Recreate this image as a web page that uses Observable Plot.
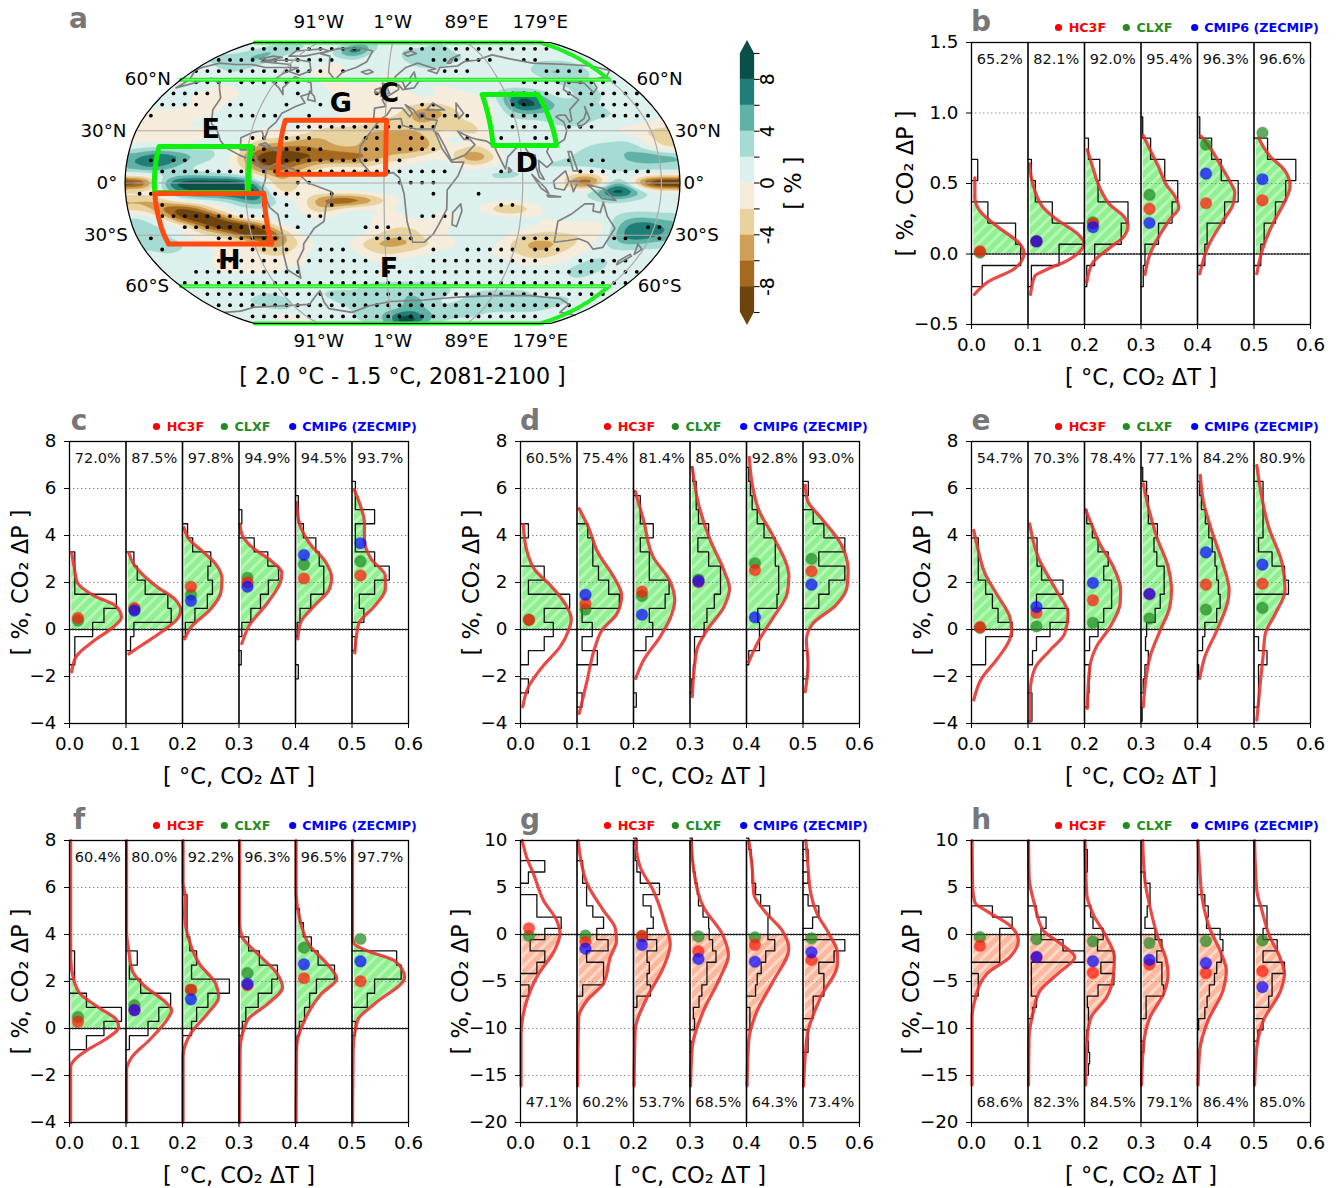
<!DOCTYPE html>
<html><head><meta charset="utf-8">
<script src="https://cdn.jsdelivr.net/npm/d3@7"></script>
<script src="https://cdn.jsdelivr.net/npm/@observablehq/plot@0.6"></script>
<style>html,body{margin:0;padding:0;background:#fff}#page{position:relative;width:1336px;height:1188px;overflow:hidden}</style>
</head><body>
<svg width="0" height="0" style="position:absolute"><defs>
<pattern id="hatchG" width="8" height="8" patternUnits="userSpaceOnUse" patternTransform="rotate(45)"><rect width="8" height="8" fill="#8ff08f"/><rect width="3" height="8" fill="#b8f6b8"/></pattern>
<pattern id="hatchO" width="8" height="8" patternUnits="userSpaceOnUse" patternTransform="rotate(45)"><rect width="8" height="8" fill="#fdb79c"/><rect width="3" height="8" fill="#fed8c8"/></pattern>
</defs></svg>
<div id="page"></div>
<script>
// ---------- map data ----------
const robLat=[0,5,10,15,20,25,30,35,40,45,50,55,60,65,70,75,80,85,90];
const robLen=[1,.9986,.9954,.99,.9822,.973,.96,.9427,.9216,.8962,.8679,.835,.7986,.7597,.7186,.6732,.6213,.5722,.5322];
const robDfe=[0,.062,.124,.186,.248,.31,.372,.434,.4958,.5571,.6176,.6769,.7346,.7903,.8435,.8936,.9394,.9761,1];
// change in precipitation (%), rows from 90N to 90S every 5 deg, columns 164W to 186E every 10 deg
const fieldRows=[
[1,1,1,1,1,1,1,1,1,1,1,1,3,3,3,1,1,1,1,1,1,1,1,1,1,1,1,1,1,1,1,1,1,1,1,1],
[1,1,1,3,3,3,3,1,1,1,1,3,5,5,3,1,1,1,1,1,1,3,3,1,1,1,1,1,1,1,1,1,1,1,1,1],
[1,1,3,3,5,3,3,1,1,1,1,3,9,9,3,1,1,1,3,3,3,3,3,1,1,1,1,1,1,1,1,1,1,1,1,1],
[3,3,3,5,5,3,1,1,1,1,1,1,3,3,1,-1,1,1,3,5,3,5,3,3,1,1,1,1,1,1,1,1,1,1,1,1],
[1,3,3,3,3,1,1,1,1,1,1,-1,-1,1,1,1,1,1,1,3,3,3,1,1,1,1,1,1,1,1,3,3,3,3,1,1],
[1,1,1,3,1,1,1,1,1,1,-1,-1,-1,1,1,1,-1,1,1,1,1,1,1,1,1,1,1,1,1,3,5,5,3,3,1,1],
[1,1,1,1,1,1,1,1,1,1,1,-1,-1,1,1,1,-1,-1,1,1,1,1,1,1,1,1,1,1,1,1,3,3,3,1,1,1],
[1,1,1,-1,-1,1,1,1,1,1,1,1,-1,-1,-1,-1,-1,-1,1,1,-1,-1,1,1,1,1,1,1,1,1,1,3,3,1,1,1],
[1,1,-1,-1,-1,-1,1,1,1,1,1,1,1,-1,-1,-1,-1,-1,-1,1,1,-1,-1,-1,1,3,9,9,3,1,1,3,3,1,1,1],
[1,1,1,-1,-1,1,1,1,1,1,1,1,1,1,-1,-1,-1,-1,-1,-3,-3,-1,-1,-1,-3,5,11,11,5,3,3,3,1,1,1,1],
[-1,-1,-1,-1,-1,1,1,1,1,1,1,1,1,1,-1,-1,-1,-1,-3,-9,-5,-3,-1,-1,-1,3,5,3,3,1,3,3,3,1,1,1],
[-1,-1,-1,1,1,1,1,1,1,1,1,1,-1,-1,-1,-1,-3,-3,-3,-5,-3,-1,-3,-1,1,1,1,1,3,3,3,1,1,1,1,-1],
[-1,-1,-1,-1,-1,1,1,1,-1,-1,1,-1,-3,-3,-3,-3,-5,-3,-5,-3,-1,-3,-5,-1,1,1,1,1,1,1,1,1,-1,-1,-3,-3],
[-1,-1,-1,-1,-1,1,1,1,-3,-1,-3,-5,-5,-3,-1,-5,-7,-5,-7,-5,-3,7,-3,-1,1,1,1,1,1,1,1,1,1,3,-3,-3],
[1,3,1,1,1,3,1,-1,-7,-7,-7,-7,-5,-5,-3,-5,-5,-5,-7,-5,-3,1,-5,-1,1,1,1,1,1,1,3,3,5,3,-1,-3],
[5,9,9,7,3,3,1,-3,-11,-11,-11,-9,-9,-9,-9,-7,-5,-3,-3,-1,1,-1,-11,-5,1,1,1,1,1,3,3,3,3,7,7,5],
[5,9,7,3,1,1,1,-1,-9,-9,-7,-5,-3,-1,-3,-3,-1,-1,1,1,1,1,-3,-1,1,1,1,3,3,3,3,5,3,3,3,3],
[1,1,1,1,3,1,1,1,-3,-5,-5,-3,1,1,1,1,1,1,1,1,1,1,1,3,3,3,1,1,-1,-3,-3,1,1,1,1,1],
[-13,-13,9,11,11,11,11,11,7,-5,-5,-1,1,1,1,1,1,1,1,1,1,1,1,1,1,1,1,1,1,-13,-13,7,7,-13,-15,-15],
[1,-1,1,7,9,9,11,11,13,-3,-5,1,-1,1,1,1,1,1,1,-1,1,1,1,1,1,1,1,1,1,1,3,13,13,3,1,1],
[-5,-5,-3,1,1,1,1,3,11,1,1,1,-7,-11,-11,-9,-3,-1,1,3,1,1,1,1,1,1,1,1,1,1,1,3,1,1,1,1],
[-3,-3,-9,-11,-9,-1,1,1,1,1,1,1,-7,-1,1,1,1,-1,3,1,-1,1,1,-1,-7,-7,-1,1,1,1,1,1,1,1,1,1],
[3,1,-3,-11,-13,-11,-5,1,1,1,1,1,-1,1,1,1,-1,-3,1,1,-1,-1,1,3,1,1,1,-1,1,1,1,1,3,5,3,3],
[3,3,1,1,-5,-11,-13,-13,-9,-1,1,1,1,1,1,1,-1,-1,-3,-1,-1,1,1,3,1,1,1,-1,-1,-1,-3,-1,5,9,9,5],
[3,3,1,-1,-1,-1,-3,-11,-13,-9,-1,1,1,1,1,1,-3,-5,-3,-1,-1,1,1,3,1,-1,-3,-3,-3,-1,-3,-1,5,9,9,5],
[3,5,3,1,-1,-1,-1,1,-7,-5,-3,-1,1,1,1,-5,-5,-5,-5,-3,-1,-1,1,1,1,-3,-5,-5,-5,-3,-1,1,3,5,3,3],
[1,3,1,1,1,-1,-1,-1,-3,-3,-1,1,1,1,1,-1,-3,-3,-1,-1,1,1,1,1,-1,-1,-3,-5,-3,-1,-1,1,1,1,1,1],
[1,1,1,1,-1,-1,-1,-1,-1,-1,-1,1,1,1,1,1,-1,1,1,1,1,1,1,1,1,1,-1,-1,-1,-1,1,3,3,1,1,1],
[1,1,1,1,-1,-1,-1,-1,-1,1,1,-1,1,1,1,1,1,1,1,1,1,1,1,1,1,1,1,1,1,1,3,3,3,1,1,1],
[1,1,1,1,1,1,1,1,1,1,1,1,1,1,1,1,1,1,1,1,1,1,1,1,1,1,1,1,1,1,1,3,1,1,1,1],
[1,1,1,1,1,1,1,1,1,1,1,1,1,1,1,3,3,3,3,3,3,3,1,1,1,1,1,1,1,1,1,1,1,1,1,1],
[1,1,1,1,1,1,3,1,1,1,1,3,3,3,3,3,3,3,5,3,3,3,1,1,3,3,3,3,3,1,1,1,1,1,1,1],
[1,1,1,1,3,3,5,3,1,1,1,1,3,3,3,3,1,3,5,5,3,1,1,3,3,3,3,3,3,3,3,5,3,1,1,1],
[1,1,1,1,1,3,3,1,1,1,1,1,1,3,3,3,3,3,5,5,3,3,3,3,3,3,3,3,3,3,3,3,1,1,1,1],
[1,1,1,1,-1,-1,-1,1,1,1,1,1,1,3,3,3,5,7,9,7,5,3,3,3,3,3,1,1,1,1,1,1,1,1,1,1],
[1,1,1,1,-1,-1,-1,-1,1,1,1,1,1,3,3,3,5,9,11,9,5,3,3,1,1,1,1,1,1,1,1,1,1,1,1,1],
[1,1,1,1,1,1,1,1,1,1,1,1,1,1,3,3,5,7,7,5,3,3,1,1,1,1,1,1,1,1,1,1,1,1,1,1]];
const levelBreaks=[-8,-6,-4,-2,0,2,4,6,8];
const levelColors=["#6f430e","#a66a1e","#cf9f55","#e8d39e","#f5ecdc","#dcf0ee","#a5dbd2","#5fb2a5","#1f7f78","#0b5048"];
// stippling: rows of [first,last] column of the dot lattice, top to bottom
const stippleRows=[
[[11,20],[25,37]],[[8,18],[27,32],[35,36]],[[6,17],[19,19],[28,30],[37,40]],[[6,8],[10,15],[35,44]],
[[4,7],[15,15],[22,22],[34,45]],[[3,6],[9,10],[14,14],[17,17],[26,27],[34,35],[41,45]],
[[2,2],[9,13],[16,16],[26,30],[34,36],[42,47]],[[15,23],[24,27],[34,36],[39,41]],
[[11,12],[14,16],[21,22],[25,26],[30,30],[33,33],[36,37]],[[11,12],[14,17],[21,22],[24,27]],
[[2,2],[4,5],[11,12],[14,22],[24,24],[39,39],[41,42]],[[3,10],[12,13],[14,24],[25,28],[33,33],[40,46]],
[[15,16],[24,27]],[[1,3],[12,15],[18,18],[27,27],[31,31]],[[3,3],[12,12],[14,14],[18,18],[33,34]],
[[3,12],[14,14],[16,17],[26,28]],[[5,12],[15,15],[21,23],[46,48]],[[1,2],[8,13],[22,25],[35,37],[43,44],[47,48]],
[[3,3],[11,14],[17,19],[27,27],[30,34],[36,38]],[[8,13],[16,21],[27,36],[40,44]],[[6,15],[18,25],[26,45]],
[[5,44]],[[7,42]],[[8,39]],[[11,36]]];
const coastlines=[
[[-168,66],[-162,60],[-165,55],[-152,59],[-146,61],[-135,58],[-130,54],[-124,49],[-124,42],[-120,34],[-115,31],[-110,24],[-105,20],[-96,16],[-90,14],[-85,11],[-80,8],[-78,8],[-78,2],[-80,-3],[-76,-14],[-71,-18],[-70,-30],[-73,-40],[-75,-50],[-68,-55],[-65,-45],[-58,-38],[-57,-35],[-48,-26],[-41,-22],[-39,-13],[-35,-8],[-35,-5],[-44,-2],[-50,0],[-60,8],[-72,11],[-76,9],[-80,9],[-83,10],[-86,16],[-88,16],[-87,21],[-91,19],[-96,19],[-97,26],[-90,29],[-84,30],[-81,25],[-80,31],[-76,35],[-74,40],[-70,42],[-66,44],[-60,46],[-65,50],[-58,52],[-62,58],[-70,60],[-78,62],[-82,55],[-79,51],[-85,55],[-94,59],[-90,64],[-81,68],[-95,68],[-110,68],[-125,70],[-140,70],[-156,71],[-166,68],[-168,66]],
[[-120,72],[-105,73],[-85,73],[-75,72],[-68,66],[-75,63],[-85,65],[-90,70],[-120,72]],
[[-100,80],[-75,82],[-65,80],[-85,76],[-100,76],[-100,80]],
[[-125,74],[-115,76],[-105,75],[-115,73],[-125,74]],[[-60,53],[-55,50],[-53,47],[-59,48],[-60,53]],
[[-44,60],[-52,65],[-55,70],[-60,76],[-72,78],[-60,82],[-35,83],[-20,80],[-22,72],[-30,68],[-40,65],[-44,60]],
[[-24,65],[-18,66.5],[-14,65],[-19,63.5],[-24,65]],[[12,78],[20,80],[25,78],[16,76],[12,78]],[[52,71],[57,74],[68,77],[60,75],[55,71],[52,71]],
[[-9,37],[-9,43],[-1,44],[-4,48],[2,51],[8,54],[8,57],[11,54],[20,55],[24,59],[30,60],[22,60],[21,65],[17,61],[18,59],[13,55],[11,59],[5,59],[5,62],[14,68],[25,71],[40,67],[33,66],[40,64],[44,68],[60,69],[68,72],[80,73],[100,77],[113,74],[130,71],[160,70],[180,69],[190,66],[180,62],[165,60],[162,55],[156,52],[156,58],[142,59],[135,54],[141,48],[130,42],[128,36],[126,35],[125,39],[121,39],[118,38],[122,35],[122,30],[119,25],[113,22],[108,21],[106,18],[109,12],[105,9],[100,13],[100,7],[103,2],[100,3],[98,9],[98,16],[94,17],[91,22],[86,20],[80,15],[78,8],[73,18],[72,21],[67,24],[61,25],[57,26],[52,28],[48,30],[52,25],[56,25],[59,22],[52,16],[43,13],[39,21],[35,28],[32,30],[35,36],[27,37],[26,40],[23,40],[23,37],[19,42],[13,45],[18,40],[16,38],[11,43],[3,43],[0,39],[-5,36],[-9,37]],
[[-5,36],[10,37],[11,33],[20,31],[32,31],[34,27],[37,20],[43,12],[51,12],[47,4],[40,-4],[40,-15],[35,-24],[32,-29],[26,-34],[18,-34],[14,-22],[12,-6],[9,3],[5,6],[-8,4],[-17,13],[-17,21],[-10,30],[-5,36]],
[[49,-12],[50,-16],[47,-25],[44,-24],[44,-17],[49,-12]],
[[114,-22],[122,-18],[130,-12],[136,-12],[136,-16],[141,-17],[142,-11],[146,-19],[153,-26],[150,-37],[144,-38],[138,-34],[131,-32],[124,-33],[115,-34],[114,-22]],
[[173,-35],[178,-38],[175,-41],[173,-35]],[[172,-41],[174,-42],[168,-47],[167,-45],[172,-41]],
[[95,5],[104,-3],[106,-6],[101,-3],[95,5]],[[109,1],[117,7],[119,1],[116,-4],[110,-3],[109,1]],[[105,-7],[114,-8],[106,-8],[105,-7]],
[[131,-1],[141,-3],[150,-10],[141,-9],[135,-4],[131,-1]],[[120,1],[125,1],[122,-5],[120,1]],[[120,18],[122,18],[125,7],[122,7],[120,18]],
[[131,32],[136,34],[141,37],[142,44],[141,41],[137,37],[131,34],[131,32]],[[80,9],[82,7],[80,6],[80,9]],
[[-5,50],[1,52],[-2,57],[-5,58],[-4,54],[-5,50]],[[-10,52],[-6,52],[-6,55],[-10,54],[-10,52]],
[[-84,22],[-75,20],[-80,23],[-84,22]],[[-74,19],[-69,18],[-70,20],[-74,19]],
[[50,46],[54,40],[50,37],[49,41],[50,46]],[[28,42],[33,46],[41,42],[35,42],[28,42]],
[[-169,-78],[-150,-77],[-130,-74],[-100,-73],[-75,-72],[-62,-65],[-58,-63],[-60,-70],[-60,-75],[-40,-78],[-20,-73],[0,-70],[30,-69],[60,-67],[90,-66],[120,-66],[150,-68],[165,-72],[170,-78],[191,-80]]];
const gridLons=[-91,-1,89,179];
const gridLats=[30,0,-30];
const greenBoxes=[[-150,-89,-5.5,21],[71,113,21.5,51]];
const redBoxes=[[-150,-79,-35,-6],[-70,0,5,36]];
const polarBoxes=[[-169,179,60,90],[-169,179,-90,-60]];
const regionLabels=[["E",-119,31],["G",-34,46],["C",1,51.5],["D",92,11],["H",-114,-44.5],["F",1,-49]];
const latLabelsLeft=[["60°N",-178,60.5],["30°N",-175.5,30],["0°",-174,0],["30°S",-174.5,-30],["60°S",-178.5,-60]];
const latLabelsRight=[["60°N",202,60.5],["30°N",195,30],["0°",193.3,0],["30°S",195,-30],["60°S",202,-60]];
const lonLabels=[["91°W",-91],["1°W",-1],["89°E",89],["179°E",179]];
const mapTitle="[ 2.0 °C - 1.5 °C, 2081-2100 ]";
// ---------- histogram panels: bins are [lower edge, width]; density curves are [y, width] ----------
const legendNames=["HC3F","CLXF","CMIP6 (ZECMIP)"];
const pctB=["65.2%","82.1%","92.0%","95.4%","96.3%","96.6%"];
const hc3fB=[.02,.09,.215,.32,.36,.38], clxfB=[.01,.09,.225,.42,.775,.86], cmipB=[null,.09,.19,.22,.57,.53];
const histB=[
[[-.232,.019],[-.0815,.087],[.069,.078],[.2195,.029],[.5205,.011]],
[[-.232,.006],[-.0815,.055],[.069,.099],[.2195,.043],[.37,.013],[.5205,.006]],
[[-.232,.004],[-.0815,.018],[.069,.065],[.2195,.077],[.37,.024],[.5205,.027],[.671,.007]],
[[-.232,.004],[-.0815,.007],[.069,.031],[.2195,.055],[.37,.065],[.5205,.042],[.671,.017],[.8215,.003]],
[[-.0815,.013],[.069,.017],[.2195,.048],[.37,.072],[.5205,.042],[.671,.025],[.8215,.004]],
[[-.0815,.012],[.069,.018],[.2195,.038],[.37,.056],[.5205,.074],[.671,.024]]];
const kdeB=[
[[-.287,.005],[-.19,.032],[-.11,.074],[-.04,.09],[.01,.093],[.07,.086],[.2,.044],[.305,.015],[.4,.006],[.54,.006]],
[[-.287,.0045],[-.157,.012],[-.11,.033],[-.05,.068],[.033,.095],[.08,.099],[.15,.086],[.23,.056],[.33,.027],[.45,.012],[.54,.006],[.64,.003]],
[[-.2,.004],[-.06,.015],[.045,.045],[.13,.071],[.2,.077],[.26,.071],[.35,.045],[.47,.027],[.61,.015],[.74,.005]],
[[-.145,.007],[0,.016],[.14,.034],[.245,.051],[.33,.067],[.41,.06],[.49,.045],[.62,.031],[.74,.016],[.84,.004]],
[[-.14,.004],[.056,.019],[.234,.045],[.352,.063],[.435,.066],[.518,.057],[.636,.04],[.755,.022],[.837,.006]],
[[-.14,.005],[.02,.014],[.22,.034],[.376,.055],[.48,.064],[.59,.055],[.695,.028],[.825,.008]]];
const pctC=["72.0%","87.5%","97.8%","94.9%","94.5%","93.7%"];
const hc3fC=[.49,.91,1.82,2,2.17,2.3], clxfC=[.38,.85,1.48,2.2,2.76,2.9], cmipC=[null,.8,1.22,1.82,3.17,3.67];
const histC=[
[[-1.5,.0094],[-.9,.0094],[-.3,.041],[.3,.061],[.9,.083],[1.5,.0094],[2.1,.0094],[2.7,.0094]],
[[-.9,.008],[-.3,.014],[.3,.08],[.9,.074],[1.5,.034],[2.1,.02],[2.7,.014]],
[[-.3,.005],[.3,.022],[.9,.044],[1.5,.053],[2.1,.045],[2.7,.05],[3.3,.018],[3.9,.009]],
[[-1.5,.004],[-.3,.005],[.3,.021],[.9,.038],[1.5,.052],[2.1,.07],[2.7,.051],[3.3,.027],[4.5,.005]],
[[-2.1,.005],[-.3,.003],[.3,.008],[.9,.027],[1.5,.05],[2.1,.05],[2.7,.042],[3.3,.036],[3.9,.014],[4.5,.005],[5.1,.005]],
[[-.9,.006],[.3,.021],[.9,.013],[1.5,.04],[2.1,.066],[2.7,.04],[3.3,.006],[3.9,.006],[4.5,.04],[5.1,.006],[5.7,.006]]];
const kdeC=[
[[-1.8,.004],[-1.18,.011],[-.47,.044],[.02,.073],[.52,.092],[1,.082],[1.43,.044],[2,.014],[2.7,.008],[3.27,.004]],
[[-1.04,.005],[-.68,.027],[-.12,.062],[.45,.091],[.8,.097],[1.3,.086],[1.8,.056],[2.4,.027],[2.85,.012],[3.27,.005]],
[[-.4,.004],[.09,.015],[.87,.05],[1.58,.068],[2.14,.07],[2.78,.059],[3.4,.032],[3.83,.012],[4.33,.003]],
[[-.6,.005],[.16,.018],[1.15,.051],[2.07,.074],[2.42,.076],[2.92,.057],[3.55,.021],[4.05,.005],[4.47,.002]],
[[-.4,.004],[.3,.009],[1,.033],[1.72,.06],[2.2,.064],[2.85,.054],[3.7,.024],[4.6,.006],[5.4,.002]],
[[-1,.005],[-.26,.008],[.3,.013],[1,.04],[1.72,.059],[2.28,.059],[3,.034],[3.83,.022],[4.54,.022],[5.4,.013],[5.95,.004]]];
const pctD=["60.5%","75.4%","81.4%","85.0%","92.8%","93.0%"];
const hc3fD=[.41,1.1,1.61,2.02,2.53,2.48], clxfD=[.41,.85,1.43,2.13,2.82,3.01], cmipD=[null,1.48,.63,2.06,.52,1.91];
const histD=[
[[-2.7,.014],[-1.5,.014],[-.9,.042],[-.3,.058],[.3,.042],[.9,.087],[1.5,.014],[2.1,.042],[3.9,.014]],
[[-3.3,.009],[-1.5,.036],[-.9,.009],[-.3,.027],[.3,.009],[.9,.075],[1.5,.056],[2.1,.038],[2.7,.028],[3.3,.028],[3.9,.019]],
[[-3.3,.005],[-.9,.022],[-.3,.034],[.3,.028],[.9,.056],[1.5,.063],[2.1,.028],[2.7,.028],[3.3,.012],[3.9,.035],[4.5,.012],[5.1,.012]],
[[-2.7,.003],[-2.1,.006],[-1.5,.008],[-.9,.008],[-.3,.025],[.3,.03],[.9,.043],[1.5,.054],[2.1,.054],[2.7,.033],[3.3,.014],[3.9,.033],[4.5,.015],[5.1,.011],[5.7,.011],[6.3,.005]],
[[-1.5,.004],[-.9,.023],[-.3,.023],[.3,.02],[.9,.054],[1.5,.057],[2.1,.057],[2.7,.051],[3.3,.051],[3.9,.031],[4.5,.019],[5.1,.01],[5.7,.007],[6.3,.004]],
[[-2.1,.008],[-1.5,.008],[.9,.028],[1.5,.046],[2.1,.074],[2.7,.028],[3.3,.074],[3.9,.037],[4.5,.018],[5.7,.0094]]];
const kdeD=[
[[-3.29,.004],[-2.44,.014],[-1.52,.041],[-.74,.07],[-.04,.085],[.45,.09],[1.1,.079],[1.88,.053],[2.52,.026],[3.37,.011],[4.46,.005]],
[[-3.57,.004],[-2.16,.018],[-.74,.032],[-.04,.044],[.68,.071],[1.46,.079],[2.24,.065],[3.23,.038],[4.36,.02],[5.14,.004]],
[[-2.08,.004],[-1.3,.018],[-.31,.047],[.47,.065],[1.24,.073],[2.09,.064],[3.08,.035],[4.64,.018],[5.88,.003]],
[[-2.86,.004],[-.88,.012],[-.04,.03],[.96,.06],[1.74,.07],[2.52,.06],[3.79,.036],[5.35,.015],[6.9,.004]],
[[-1.38,.004],[-.46,.022],[.53,.048],[1.53,.072],[2.24,.075],[3.93,.048],[5.07,.022],[6.2,.01],[7.33,.005]],
[[-2.65,.004],[-1.45,.009],[-.47,.006],[.24,.017],[1.03,.058],[1.81,.078],[2.52,.08],[3.65,.067],[4.78,.031],[5.49,.008],[6.13,.004]]];
const pctE=["54.7%","70.3%","78.4%","77.1%","84.2%","80.9%"];
const hc3fE=[.1,.71,1.24,1.51,1.91,1.95], clxfE=[.07,.13,.28,.47,.85,.92], cmipE=[null,.96,1.98,1.51,3.28,2.76];
const histE=[
[[-1.5,.025],[-.9,.025],[-.3,.072],[.3,.047],[.9,.037],[1.5,.025],[2.1,.012],[2.7,.012],[3.3,.012]],
[[-3.9,.007],[-3.3,.007],[-1.5,.008],[-.9,.015],[-.3,.039],[.3,.071],[.9,.015],[1.5,.062],[2.1,.024],[2.7,.016],[3.3,.016]],
[[-3.3,.006],[-2.7,.008],[-2.1,.009],[-.9,.009],[-.3,.024],[.3,.034],[.9,.048],[1.5,.048],[2.1,.034],[2.7,.042],[3.3,.024],[3.9,.014],[4.5,.004]],
[[-3.9,.002],[-2.7,.004],[-2.1,.007],[-1.5,.013],[-.9,.008],[-.3,.01],[.3,.025],[.9,.034],[1.5,.041],[2.1,.041],[2.7,.028],[3.3,.023],[3.9,.029],[4.5,.013],[5.1,.013],[5.7,.01],[6.3,.003]],
[[-2.1,.002],[-.9,.009],[-.3,.013],[.3,.034],[.9,.04],[1.5,.037],[2.1,.034],[2.7,.031],[3.3,.026],[3.9,.02],[4.5,.014],[5.1,.007],[5.7,.004]],
[[-3.3,.008],[-2.7,.008],[-2.1,.008],[-1.5,.023],[-.9,.008],[1.5,.061],[2.1,.054],[2.7,.032],[3.3,.008],[3.9,.016],[4.5,.016],[5.1,.016],[5.7,.016]]];
const kdeE=[
[[-3,.004],[-2.08,.018],[-1.3,.044],[-.39,.068],[-.04,.071],[.52,.068],[1.53,.044],[2.38,.024],[3.37,.012],[4.22,.004]],
[[-3.92,.004],[-2.65,.004],[-1.66,.012],[-.88,.039],[-.17,.065],[.68,.071],[1.67,.05],[3.08,.018],[4.5,.003]],
[[-3.36,.005],[-1.66,.009],[-.74,.021],[.1,.045],[1.1,.063],[1.67,.064],[2.67,.051],[3.65,.027],[4.5,.012],[5.1,.002]],
[[-3.29,.004],[-1.16,.016],[-.04,.034],[.96,.051],[1.67,.054],[2.67,.048],[3.93,.028],[5.2,.013],[6.2,.004]],
[[-2.08,.004],[-1.16,.013],[.1,.037],[1.24,.054],[1.67,.056],[2.8,.045],[4.22,.025],[5.5,.01],[6.56,.005]],
[[-3.86,.005],[-2.3,.011],[-1.16,.016],[-.18,.02],[.68,.038],[1.67,.055],[2.8,.05],[4.36,.026],[6.98,.005]]];
const pctF=["60.4%","80.0%","92.2%","96.3%","96.5%","97.7%"];
const hc3fF=[.28,.78,1.65,1.84,2.14,2.01], clxfF=[.49,.99,1.65,2.36,3.44,3.81], cmipF=[null,.78,1.24,1.9,2.73,2.86];
const histF=[
[[-.9,.03],[-.3,.061],[.3,.092],[.9,.03],[2.1,.009],[2.7,.009]],
[[-.9,.006],[-.3,.039],[.3,.058],[.9,.079],[1.5,.026],[2.1,.006],[2.7,.02]],
[[-.3,.016],[.3,.025],[.9,.045],[1.5,.083],[2.1,.016],[2.7,.025],[3.3,.013],[3.9,.008],[4.5,.008],[5.1,.008]],
[[-.3,.006],[.3,.012],[.9,.034],[1.5,.058],[2.1,.068],[2.7,.036],[3.3,.017]],
[[-.9,.003],[-.3,.007],[.3,.016],[.9,.025],[1.5,.037],[2.1,.069],[2.7,.04],[3.3,.028],[3.9,.014],[4.5,.007]],
[[-.3,.006],[.9,.027],[1.5,.04],[2.1,.087],[2.7,.079]]];
const kdeF=[
[[-4,.002],[-1.63,.002],[-1.28,.011],[-.92,.031],[-.5,.061],[.06,.087],[.35,.084],[.84,.055],[1.48,.019],[2.04,.008],[3.03,.002],[8,.002]],
[[-4,.001],[-1.78,.001],[-1.2,.011],[-.5,.041],[.5,.076],[.77,.081],[1.05,.073],[1.83,.032],[2.47,.011],[3.3,.005],[4.1,.001],[8,.001]],
[[-4,.001],[-1.2,.001],[-.2,.015],[.63,.044],[1.34,.064],[1.9,.059],[2.75,.03],[3.73,.012],[4.87,.004],[5.6,.005],[6.2,.001],[8,.001]],
[[-4,.001],[-.92,.002],[.35,.015],[1.05,.051],[1.76,.077],[2.32,.068],[3.18,.033],[3.89,.006],[4.45,.001],[8,.001]],
[[-4,.001],[-.8,.002],[.35,.016],[1.48,.046],[2.12,.073],[2.69,.058],[3.54,.025],[4.74,.007],[5.87,.001],[8,.001]],
[[-4,.001],[-.92,.002],[.35,.01],[1.05,.04],[2.18,.093],[2.89,.075],[3.3,.028],[3.6,.004],[3.9,.001],[8,.001]]];
const pctG=["47.1%","60.2%","53.7%","68.5%","64.3%","73.4%"];
const hc3fG=[.67,-.8,-.14,-1.8,-1.1,-2.7], clxfG=[-.14,-.1,-.2,-.2,-.3,-.4], cmipG=[null,-1.5,-1.1,-2.6,-2.9,-1.9];
const histG=[
[[-6.55,.015],[-4.15,.029],[-2.95,.043],[-1.75,.017],[-.55,.043],[.65,.072],[1.85,.029],[3.05,.029],[5.45,.014],[6.65,.043]],
[[-6.55,.01],[-5.35,.047],[-4.15,.047],[-2.95,.017],[-1.75,.055],[-.55,.035],[.65,.047],[1.85,.028],[3.05,.017],[4.25,.017],[5.45,.01],[6.65,.01]],
[[-7.75,.006],[-6.55,.03],[-5.35,.024],[-4.15,.028],[-2.95,.024],[-1.75,.041],[-.55,.024],[.65,.035],[1.85,.031],[3.05,.017],[4.25,.046],[5.45,.012],[6.65,.006],[7.85,.003],[9.05,.006]],
[[-12.55,.002],[-10.15,.008],[-8.95,.006],[-7.75,.016],[-6.55,.021],[-5.35,.03],[-4.15,.03],[-2.95,.046],[-1.75,.04],[-.55,.034],[.65,.033],[1.85,.023],[3.05,.015],[4.25,.013],[5.45,.009],[6.65,.006],[7.85,.004],[9.05,.004]],
[[-10.15,.006],[-8.95,.006],[-6.55,.016],[-5.35,.019],[-4.15,.026],[-2.95,.034],[-1.75,.05],[-.55,.038],[.65,.038],[1.85,.041],[3.05,.025],[4.25,.016],[5.45,.01],[6.65,.01],[7.85,.008],[9.05,.004]],
[[-12.55,.009],[-11.35,.009],[-8.95,.018],[-7.75,.018],[-6.55,.037],[-5.35,.037],[-4.15,.028],[-2.95,.055],[-1.75,.074],[.65,.017],[1.85,.028],[3.05,.009],[5.45,.009],[7.85,.009]]];
const kdeG=[
[[-16.1,.001],[-10.6,.001],[-7.7,.008],[-4.5,.029],[-1.6,.061],[.07,.07],[1.5,.064],[3.6,.041],[6.45,.023],[8.2,.011],[10,.003]],
[[-16.1,.001],[-8.8,.003],[-7,.018],[-5.2,.047],[-2.4,.059],[-.64,.07],[.6,.068],[2.55,.047],[5.4,.018],[8.2,.006],[10,.002]],
[[-16.1,.001],[-10.2,.003],[-6.7,.024],[-3.5,.053],[-1,.065],[1.1,.056],[4.68,.035],[7.16,.012],[10,.003]],
[[-16.1,.001],[-12,.004],[-8.1,.024],[-4.5,.054],[-2.2,.068],[.07,.057],[2.9,.024],[7.16,.006],[10,.002]],
[[-16.1,.001],[-11.3,.004],[-8.1,.019],[-4.9,.048],[-1.5,.075],[.43,.063],[2.55,.031],[4.3,.013],[7.16,.01],[10,.004]],
[[-16.1,.001],[-10.6,.008],[-6.7,.031],[-3.1,.061],[-2,.061],[.07,.046],[2.2,.025],[4.3,.014],[7.9,.008],[10,.005]]];
const pctH=["68.6%","82.3%","84.5%","79.1%","86.4%","85.0%"];
const hc3fH=[-1.2,-2.4,-4.08,-3.2,-4.1,-3.9], clxfH=[-.28,-.5,-.74,-.92,-.7,-.64], cmipH=[null,-2.4,-2.84,-2.7,-3.05,-5.6];
const histH=[
[[-6.55,.012],[-5.35,.012],[-2.95,.05],[-1.75,.05],[-.55,.05],[.65,.072],[1.85,.037]],
[[-8.95,.008],[-7.75,.015],[-6.55,.006],[-5.35,.006],[-4.15,.006],[-2.95,.1],[-1.75,.062],[-.55,.023],[.65,.032],[1.85,.015]],
[[-14.95,.007],[-13.75,.009],[-12.55,.007],[-11.35,.004],[-10.15,.007],[-8.95,.007],[-7.75,.005],[-6.55,.024],[-5.35,.052],[-4.15,.029],[-2.95,.052],[-1.75,.023],[-.55,.033],[.65,.015],[1.85,.011],[6.65,.005],[7.85,.005]],
[[-12.55,.005],[-8.95,.009],[-7.75,.009],[-6.55,.04],[-5.35,.037],[-4.15,.037],[-2.95,.028],[-1.75,.037],[-.55,.025],[.65,.007],[1.85,.011],[3.05,.016],[4.25,.016],[5.45,.007]],
[[-10.15,.002],[-8.95,.013],[-7.75,.017],[-6.55,.021],[-5.35,.03],[-4.15,.034],[-2.95,.042],[-1.75,.045],[-.55,.04],[.65,.016],[1.85,.019],[3.05,.013]],
[[-11.35,.007],[-10.15,.016],[-7.75,.026],[-6.55,.032],[-5.35,.032],[-4.15,.054],[-2.95,.016],[-1.75,.041],[-.55,.016],[.65,.023],[1.85,.023]]];
const kdeH=[
[[-16,.001],[-8.8,.001],[-7,.006],[-4.2,.027],[-2.4,.068],[-.64,.083],[.96,.068],[2.38,.03],[3.4,.006],[5,.002],[10,.001]],
[[-16,.001],[-10.9,.002],[-8.1,.01],[-6,.021],[-4,.056],[-2.4,.083],[-1.17,.062],[.43,.027],[3.1,.012],[6.1,.002],[10,.001]],
[[-16,.002],[-10.9,.005],[-8.8,.012],[-6.7,.039],[-4.5,.051],[-2.4,.053],[-.28,.039],[2.2,.015],[4.3,.004],[10,.001]],
[[-16,.001],[-12,.004],[-8.8,.016],[-6.3,.04],[-4.2,.048],[-2.8,.045],[.07,.028],[2.9,.016],[5.7,.007],[10,.003]],
[[-16,.001],[-12.3,.004],[-9.1,.019],[-6,.045],[-3.8,.051],[-2,.042],[.6,.022],[3.26,.01],[6.8,.004],[10,.001]],
[[-16,.001],[-12,.005],[-9.1,.017],[-6,.047],[-4.2,.054],[-2.6,.047],[.07,.026],[2.55,.014],[4.7,.005],[10,.001]]];
const xTicks=[0,.1,.2,.3,.4,.5,.6];
const xLabel="[ °C, CO₂ ΔT ]", yLabel="[ %, CO₂ ΔP ]";
const ticksB=[-.5,0,.5,1,1.5], ticksC=[-4,-2,0,2,4,6,8], ticksG=[-20,-15,-10,-5,0,5,10];

const font="DejaVu Sans";
const page=document.getElementById("page");

// ---------- panels ----------
function panel({letter,left,top,domain,ticks,fmt,pct,hist,kde,hc3f,clxf,cmip,binSize,hatch,ySign,pctAt,yLabelDx}){
  const ox=i=>i/10;
  const hs=[];
  hist.forEach((bins,g)=>{
    let run=0,prev=null;
    bins.forEach(([lo,w],i)=>{
      const hi=lo+binSize,id=g+"-"+run;
      if(prev===null) hs.push({s:id,x:ox(g),y:lo});
      hs.push({s:id,x:ox(g)+w,y:lo},{s:id,x:ox(g)+w,y:hi});
      const next=bins[i+1];
      if(!next||Math.abs(next[0]-hi)>binSize*.2){ hs.push({s:id,x:ox(g),y:hi}); run++; prev=null; }
      else prev=hi;
    });
  });
  const ks=[],fs=[];
  kde.forEach((pts,g)=>{
    pts.forEach(([y,w])=>ks.push({g,y,x:ox(g)+w}));
    let out=[];
    for(let i=0;i<pts.length;i++){
      const [y,w]=pts[i];
      if(i>0&&pts[i-1][0]*y<0){const [y0,w0]=pts[i-1];out.push([0,w0+(w-w0)*(0-y0)/(y-y0)]);}
      if(y*ySign>=0) out.push([y,w]);
    }
    out.forEach(([y,w])=>fs.push({g,y,a:ox(g)+Math.min(.004,w),b:ox(g)+w}));
  });
  const dotsOf=(arr,fill)=>Plot.dot(arr.map((v,g)=>({g,v})).filter(d=>d.v!==null),{x:d=>ox(d.g)+.015,y:"v",r:5.8,fill,fillOpacity:.72,stroke:fill,strokeOpacity:.2});
  const grid=ticks.filter(t=>t!==0&&t!==domain[0]&&t!==domain[1]);
  const topText=(t,x,fill)=>Plot.text([t],{x:()=>x,frameAnchor:"top",lineAnchor:"middle",dy:-15,textAnchor:"start",fontSize:12.7,fontWeight:"bold",fill,text:d=>d});
  const svg=Plot.plot({
    width:429,height:392,marginLeft:70,marginRight:20,marginTop:40,marginBottom:70,
    style:{position:"absolute",left:(left-70)+"px",top:(top-40)+"px",background:"transparent",fontFamily:font,fontSize:"18.3px",color:"#000",overflow:"visible"},
    x:{domain:[0,.6],axis:null},y:{domain,axis:null},
    marks:[
      Plot.areaX(fs,{y:"y",x1:"a",x2:"b",z:"g",fill:hatch,curve:"monotone-y"}),
      Plot.ruleY(grid,{stroke:"#888",strokeWidth:1.2,strokeDasharray:"1.4,2.6"}),
      Plot.ruleY([0],{stroke:"#000",strokeWidth:1.1}),
      Plot.ruleY([0],{stroke:"#333",strokeWidth:2,strokeDasharray:"1.6,1.4",strokeOpacity:.8}),
      Plot.line(hs,{x:"x",y:"y",z:"s",stroke:"#111",strokeWidth:1.3}),
      Plot.line(ks,{x:"x",y:"y",z:"g",stroke:"#e8302c",strokeOpacity:.88,strokeWidth:3.2,curve:"monotone-y"}),
      dotsOf(clxf,"#228b22"),dotsOf(hc3f,"#ff1a0a"),dotsOf(cmip,"#0a0aff"),
      Plot.ruleX([.1,.2,.3,.4,.5],{stroke:"#000",strokeWidth:1.6}),
      Plot.frame({stroke:"#000",strokeWidth:1.3,fill:"none"}),
      Plot.axisX({ticks:xTicks,tickFormat:d=>d.toFixed(1),tickSize:5,tickPadding:8.5,label:null,fontSize:18.3}),
      Plot.axisY({ticks,tickFormat:d=>(fmt?d.toFixed(1):String(d)).replace("-","−"),tickSize:5,tickPadding:8,label:null,fontSize:18.3}),
      Plot.text(pct,{x:(d,i)=>ox(i)+.05,frameAnchor:pctAt<0?"bottom":"top",lineAnchor:"middle",dy:pctAt<0?-20:17,text:d=>d,fontSize:14.5,fill:"#111"}),
      Plot.text([xLabel],{frameAnchor:"bottom",lineAnchor:"middle",dy:53,fontSize:22.5,text:d=>d}),
      Plot.text([yLabel],{frameAnchor:"left",textAnchor:"middle",lineAnchor:"middle",dx:-yLabelDx,rotate:-90,fontSize:22.5,text:d=>d}),
      Plot.text([letter],{x:()=>.017,frameAnchor:"top",lineAnchor:"middle",dy:-20,fontSize:28,fontWeight:"bold",fill:"#777",text:d=>d}),
      Plot.dot([0],{x:()=>.154,frameAnchor:"top",dy:-15,r:3.6,fill:"#ff0000"}),
      Plot.dot([0],{x:()=>.274,frameAnchor:"top",dy:-15,r:3.6,fill:"#228b22"}),
      Plot.dot([0],{x:()=>.395,frameAnchor:"top",dy:-15,r:3.6,fill:"#0000ff"}),
      topText(legendNames[0],.172,"#ff0000"),
      topText(legendNames[1],.292,"#228b22"),
      topText(legendNames[2],.412,"#0000ff")
    ]
  });
  page.appendChild(svg);
}
const G="url(#hatchG)",O="url(#hatchO)";
panel({letter:"b",left:971,top:42,domain:[-.5,1.5],ticks:ticksB,fmt:true,pct:pctB,hist:histB,kde:kdeB,hc3f:hc3fB,clxf:clxfB,cmip:cmipB,binSize:.1505,hatch:G,ySign:1,pctAt:1,yLabelDx:66});
panel({letter:"c",left:69,top:441,domain:[-4,8],ticks:ticksC,pct:pctC,hist:histC,kde:kdeC,hc3f:hc3fC,clxf:clxfC,cmip:cmipC,binSize:.6,hatch:G,ySign:1,pctAt:1,yLabelDx:49});
panel({letter:"d",left:520,top:441,domain:[-4,8],ticks:ticksC,pct:pctD,hist:histD,kde:kdeD,hc3f:hc3fD,clxf:clxfD,cmip:cmipD,binSize:.6,hatch:G,ySign:1,pctAt:1,yLabelDx:49});
panel({letter:"e",left:971,top:441,domain:[-4,8],ticks:ticksC,pct:pctE,hist:histE,kde:kdeE,hc3f:hc3fE,clxf:clxfE,cmip:cmipE,binSize:.6,hatch:G,ySign:1,pctAt:1,yLabelDx:49});
panel({letter:"f",left:69,top:840,domain:[-4,8],ticks:ticksC,pct:pctF,hist:histF,kde:kdeF,hc3f:hc3fF,clxf:clxfF,cmip:cmipF,binSize:.6,hatch:G,ySign:1,pctAt:1,yLabelDx:49});
panel({letter:"g",left:520,top:840,domain:[-20,10],ticks:ticksG,pct:pctG,hist:histG,kde:kdeG,hc3f:hc3fG,clxf:clxfG,cmip:cmipG,binSize:1.2,hatch:O,ySign:-1,pctAt:-1,yLabelDx:60});
panel({letter:"h",left:971,top:840,domain:[-20,10],ticks:ticksG,pct:pctH,hist:histH,kde:kdeH,hc3f:hc3fH,clxf:clxfH,cmip:cmipH,binSize:1.2,hatch:O,ySign:-1,pctAt:-1,yLabelDx:60});

// ---------- map ----------
const lenAt=d3.scaleLinear(robLat,robLen), dfeAt=d3.scaleLinear(robLat,robDfe), latAt=d3.scaleLinear(robDfe,robLat);
const mapCx=402,mapCy=182.5,mapK=1.5417,mapRy=140.5,lon0=11;
const mapX=(lon,lat)=>mapCx+mapK*lenAt(Math.abs(lat))*(lon-lon0);
const mapY=lat=>mapCy-Math.sign(lat)*mapRy*dfeAt(Math.abs(lat));
const robinson=d3.geoTransform({point(lon,lat){this.stream.point(mapX(lon,lat),mapY(lat));}});
const nCols=fieldRows[0].length,nRows=fieldRows.length;
// resample the read-off grid more finely so the filled contours come out rounded
const up=3,fw=nCols*up,fh=nRows*up,fine=new Float64Array(fw*fh);
for(let j=0;j<fh;j++)for(let i=0;i<fw;i++){
  const gx=Math.max(0,Math.min(nCols-1.001,(i+.5)/up-.5)),gy=Math.max(0,Math.min(nRows-1.001,(j+.5)/up-.5));
  const x0=Math.floor(gx),y0=Math.floor(gy),tx=gx-x0,ty=gy-y0;
  fine[j*fw+i]=(fieldRows[y0][x0]*(1-tx)+fieldRows[y0][x0+1]*tx)*(1-ty)+(fieldRows[y0+1][x0]*(1-tx)+fieldRows[y0+1][x0+1]*tx)*ty;
}
d3.blur2({data:fine,width:fw,height:fh},1.6,.4);
const toLL=([x,y])=>[-169+10*x/up,Math.max(-90,Math.min(90,92.5-5*y/up))];
const bands=d3.contours().size([fw,fh]).thresholds(levelBreaks)(Array.from(fine)).map(c=>({
  type:"MultiPolygon",value:c.value,coordinates:c.coordinates.map(p=>p.map(r=>r.map(toLL)))}));
const colorOfBand=v=>levelColors[levelBreaks.indexOf(v)+1];
const outlineLats=d3.range(90,-91,-2.5);
const outline={type:"Polygon",coordinates:[[...outlineLats.map(a=>[191,a]),...outlineLats.slice().reverse().map(a=>[-169,a]),[191,90]]]};
const seg=(a,b,n=40)=>d3.range(n+1).map(i=>[a[0]+(b[0]-a[0])*i/n,a[1]+(b[1]-a[1])*i/n]);
const boxLine=([w,e,s,n])=>({type:"LineString",coordinates:[...seg([w,s],[w,n]),...seg([w,n],[e,n]),...seg([e,n],[e,s]),...seg([e,s],[w,s])]});
// the polar boxes are open on their western side
const polarLine=([w,e,s,n])=>({type:"LineString",coordinates:[...seg([w,n],[e,n]),...seg([e,n],[e,s]),...seg([e,s],[w,s])]});
const stipple=[];
stippleRows.forEach((ranges,r)=>ranges.forEach(([a,b])=>{for(let c=a;c<=b;c++){
  const py=48.3+11.15*r,px=127.8+11.3*c,t=(mapCy-py)/mapRy;
  const lat=Math.sign(t)*latAt(Math.abs(t));
  const lon=lon0+(px-mapCx)/(mapK*lenAt(Math.abs(lat)));
  if(lon>-167&&lon<189) stipple.push({lon,lat});
}}));
const label=(d,o)=>Plot.text(d,{x:x=>x[1],y:x=>x[2],text:x=>x[0],...o});
const mapSvg=Plot.plot({
  width:830,height:400,margin:0,
  style:{position:"absolute",left:"0px",top:"0px",background:"transparent",fontFamily:font,color:"#000",overflow:"visible"},
  projection:robinson,
  marks:[
    Plot.geo([outline],{fill:levelColors[0],stroke:"none"}),
    Plot.geo(bands,{fill:d=>colorOfBand(d.value),stroke:d=>colorOfBand(d.value),strokeWidth:.4}),
    Plot.dot(stipple,{x:"lon",y:"lat",r:1.9,fill:"#000"}),
    Plot.geo([{type:"MultiLineString",coordinates:coastlines}],{fill:"none",stroke:"#808080",strokeWidth:1.7}),
    Plot.geo(gridLons.map(l=>({type:"LineString",coordinates:seg([l,-90],[l,90],72)})),{fill:"none",stroke:"#aaa",strokeWidth:1.2}),
    Plot.geo(gridLats.map(a=>({type:"LineString",coordinates:seg([-169,a],[191,a])})),{fill:"none",stroke:"#aaa",strokeWidth:1.2}),
    Plot.geo(polarBoxes.map(polarLine),{fill:"none",stroke:"#1fee1f",strokeWidth:4}),
    Plot.geo([60,-60].map(a=>({type:"LineString",coordinates:seg([-169,a],[179,a])})),{fill:"none",stroke:"#a8f0a8",strokeWidth:1}),
    Plot.geo(greenBoxes.map(boxLine),{fill:"none",stroke:"#0cf00c",strokeWidth:5}),
    Plot.geo(redBoxes.map(boxLine),{fill:"none",stroke:"#ff4a10",strokeWidth:5}),
    Plot.geo([outline],{fill:"none",stroke:"#000",strokeWidth:1.2}),
    label(regionLabels,{fontSize:27,fontWeight:"bold",fill:"#000"}),
    label(latLabelsLeft,{fontSize:18.3,textAnchor:"end",fill:"#000"}),
    label(latLabelsRight,{fontSize:18.3,textAnchor:"start",fill:"#000"}),
    Plot.text(lonLabels,{x:d=>d[1],y:()=>90,dy:-20,text:d=>d[0],fontSize:18.3,fill:"#000"}),
    Plot.text(lonLabels,{x:d=>d[1],y:()=>-90,dy:18,text:d=>d[0],fontSize:18.3,fill:"#000"}),
    Plot.text([mapTitle],{x:()=>11,y:()=>-90,dy:53,text:d=>d,fontSize:22.2,fill:"#000"}),
    Plot.text(["a"],{frameAnchor:"top-left",lineAnchor:"middle",dx:78,dy:19,textAnchor:"middle",fontSize:28,fontWeight:"bold",fill:"#777",text:d=>d})
  ]
});
page.appendChild(mapSvg);

// ---------- colour bar ----------
const cbSteps=[-10,-8,-6,-4,-2,0,2,4,6,8,10];
const cbRects=levelColors.map((c,i)=>({lo:cbSteps[i],hi:cbSteps[i+1],c}));
const cbLabels=[8,4,0,-4,-8];
const cbSvg=Plot.plot({
  width:830,height:400,margin:0,
  style:{position:"absolute",left:"0px",top:"0px",background:"transparent",fontFamily:font,color:"#000",overflow:"visible"},
  x:{domain:[0,1],range:[740,754],axis:null},y:{domain:[-10,10],range:[312,53],axis:null},
  marks:[
    Plot.rect(cbRects,{x1:()=>0,x2:()=>1,y1:"lo",y2:"hi",fill:"c",stroke:"c",strokeWidth:.3}),
    Plot.areaX([{y:10,a:0,b:1},{y:11,a:.5,b:.5}],{y:"y",x1:"a",x2:"b",fill:levelColors[9]}),
    Plot.areaX([{y:-11,a:.5,b:.5},{y:-10,a:0,b:1}],{y:"y",x1:"a",x2:"b",fill:levelColors[0]}),
    Plot.ruleY(cbSteps,{x1:()=>1,x2:()=>1.4,stroke:"#111",strokeWidth:1.1}),
    Plot.text(cbLabels,{x:()=>1.95,y:d=>d,rotate:-90,text:d=>String(d),fontSize:18.8,fill:"#000"}),
    Plot.text(["[ % ]"],{x:()=>3.79,y:()=>0,rotate:-90,text:d=>d,fontSize:22.5,fill:"#000"})
  ]
});
page.appendChild(cbSvg);
</script>
</body></html>
